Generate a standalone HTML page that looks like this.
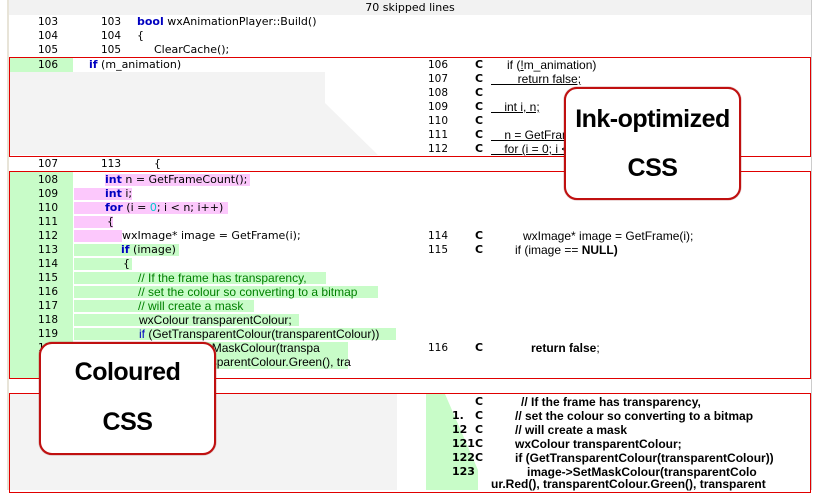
<!DOCTYPE html>
<html><head><meta charset="utf-8"><style>
*{margin:0;padding:0;box-sizing:border-box}
body{width:820px;height:490px;overflow:hidden;background:#fff;position:relative;font-family:"DejaVu Sans","Liberation Sans",sans-serif;font-size:11px;color:#000}
.a{position:absolute;white-space:pre;line-height:14px;height:14px}
.n{position:absolute;width:40px;text-align:right;line-height:14px;font-size:10.5px}
.k{color:#0000c0;font-weight:bold}
.c{color:#008000}
.r{position:absolute}
.box{position:absolute;border:1px solid #e00000}
.g{background:#c8fcc8}
.p{background:#fcc8fc}
.rt{font-family:"Liberation Sans",sans-serif;font-size:12px}
.co{font-family:"Liberation Sans",sans-serif;font-size:12px;color:#008000}
.call{position:absolute;background:#fff;border:2px solid #c01010;border-radius:13px;font-family:"Liberation Sans",sans-serif;font-weight:bold;text-align:center;font-size:25px;box-shadow:0 0 1px #800;letter-spacing:-0.5px}
.u{text-decoration:underline}
</style></head><body>
<div class="r" style="left:7px;top:0;width:2px;height:490px;background:#e8e4d8"></div>
<div class="r" style="left:811px;top:0;width:1px;height:490px;background:#ccc"></div>
<div class="r" style="left:9px;top:0;width:802px;height:15px;background:#f2f2f2"></div>
<div class="a" style="left:0;width:820px;text-align:center;top:1px">70 skipped lines</div>

<div class="n" style="left:18px;top:15px">103</div><div class="n" style="left:81px;top:15px">103</div><div class="a" style="left:137px;top:15px"><span class="k">bool</span> wxAnimationPlayer::Build()</div>
<div class="n" style="left:18px;top:29px">104</div><div class="n" style="left:81px;top:29px">104</div><div class="a" style="left:137px;top:29px">{</div>
<div class="n" style="left:18px;top:43px">105</div><div class="n" style="left:81px;top:43px">105</div><div class="a" style="left:154px;top:43px">ClearCache();</div>

<div class="r g" style="left:10px;top:58px;width:63px;height:14px"></div>
<svg class="r" style="left:0;top:0" width="820" height="490"><polygon points="10,72 325,72 325,103 378,155 10,155" fill="#f3f3f3"/>
<polygon points="426,394 445,394 478,470 478,490 426,490" fill="#c8fcc8"/></svg>
<div class="box" style="left:9px;top:57px;width:802px;height:100px"></div>
<div class="n" style="left:18px;top:58px">106</div><div class="a" style="left:89px;top:58px"><span class="k">if</span> (m_animation)</div>
<div class="n" style="left:408px;top:58px">106</div><div class="a" style="left:475px;top:58px"><b>C</b></div><div class="a rt" style="left:507px;top:58px">if (<span class="u">!</span>m_animation)</div>
<div class="n" style="left:408px;top:72px">107</div><div class="a" style="left:475px;top:72px"><b>C</b></div><div class="a rt u" style="left:491px;top:72px">        return false;</div>
<div class="n" style="left:408px;top:86px">108</div><div class="a" style="left:475px;top:86px"><b>C</b></div>
<div class="n" style="left:408px;top:100px">109</div><div class="a" style="left:475px;top:100px"><b>C</b></div><div class="a rt u" style="left:491px;top:100px">    int i, n;</div>
<div class="n" style="left:408px;top:114px">110</div><div class="a" style="left:475px;top:114px"><b>C</b></div>
<div class="n" style="left:408px;top:128px">111</div><div class="a" style="left:475px;top:128px"><b>C</b></div><div class="a rt u" style="left:491px;top:128px">    n = GetFrameCount();</div>
<div class="n" style="left:408px;top:142px">112</div><div class="a" style="left:475px;top:142px"><b>C</b></div><div class="a rt u" style="left:491px;top:142px">    for (i = 0; i &lt; n; i++)</div>

<div class="n" style="left:18px;top:157px">107</div><div class="n" style="left:81px;top:157px">113</div><div class="a" style="left:154px;top:157px">{</div>

<div class="r g" style="left:10px;top:172px;width:63px;height:206px"></div>
<div class="r p" style="left:105px;top:174px;width:145px;height:12px"></div>
<div class="r p" style="left:74px;top:188px;width:58px;height:12px"></div>
<div class="r p" style="left:74px;top:202px;width:154px;height:12px"></div>
<div class="r p" style="left:74px;top:216px;width:39px;height:12px"></div>
<div class="r p" style="left:74px;top:230px;width:48px;height:12px"></div>
<div class="r g" style="left:74px;top:244px;width:105px;height:12px"></div>
<div class="r g" style="left:74px;top:258px;width:58px;height:12px"></div>
<div class="r g" style="left:74px;top:272px;width:252px;height:12px"></div>
<div class="r g" style="left:74px;top:286px;width:304px;height:12px"></div>
<div class="r g" style="left:74px;top:300px;width:180px;height:12px"></div>
<div class="r g" style="left:74px;top:314px;width:225px;height:12px"></div>
<div class="r g" style="left:74px;top:328px;width:322px;height:12px"></div>
<div class="r g" style="left:74px;top:342px;width:274px;height:27px"></div>
<div class="box" style="left:9px;top:171px;width:802px;height:208px"></div>
<div class="n" style="left:18px;top:173px">108</div><div class="a" style="left:105px;top:173px"><span class="k">int</span> n = GetFrameCount();</div>
<div class="n" style="left:18px;top:187px">109</div><div class="a" style="left:105px;top:187px"><span class="k">int</span> i;</div>
<div class="n" style="left:18px;top:201px">110</div><div class="a" style="left:105px;top:201px"><span class="k">for</span> (i = <span style="color:#0cc">0</span>; i &lt; n; i++)</div>
<div class="n" style="left:18px;top:215px">111</div><div class="a" style="left:107px;top:215px">{</div>
<div class="n" style="left:18px;top:229px">112</div><div class="a" style="left:122px;top:229px">wxImage* image = GetFrame(i);</div>
<div class="n" style="left:18px;top:243px">113</div><div class="a" style="left:121px;top:243px"><span class="k">if</span> (image)</div>
<div class="n" style="left:18px;top:257px">114</div><div class="a" style="left:123px;top:257px">{</div>
<div class="n" style="left:18px;top:271px">115</div><div class="a co" style="left:138px;top:271px">// If the frame has transparency,</div>
<div class="n" style="left:18px;top:285px">116</div><div class="a co" style="left:138px;top:285px">// set the colour so converting to a bitmap</div>
<div class="n" style="left:18px;top:299px">117</div><div class="a co" style="left:138px;top:299px">// will create a mask</div>
<div class="n" style="left:18px;top:313px">118</div><div class="a rt" style="left:139px;top:313px">wxColour transparentColour;</div>
<div class="n" style="left:18px;top:327px">119</div><div class="a rt" style="left:139px;top:327px"><span style="color:#0000c0">if</span> (GetTransparentColour(transparentColour))</div>
<div class="n" style="left:18px;top:341px">120</div><div class="a rt" style="left:150px;top:341px">image-&gt;SetMaskColour(transpa</div>
<div class="a rt" style="left:140px;top:355px">ur.Red(), transparentColour.Green(), tra</div>
<div class="n" style="left:408px;top:229px">114</div><div class="a" style="left:475px;top:229px"><b>C</b></div><div class="a rt" style="left:523px;top:229px">wxImage* image = GetFrame(i);</div>
<div class="n" style="left:408px;top:243px">115</div><div class="a" style="left:475px;top:243px"><b>C</b></div><div class="a rt" style="left:515px;top:243px">if (image == <b>NULL)</b></div>
<div class="n" style="left:408px;top:341px">116</div><div class="a" style="left:475px;top:341px"><b>C</b></div><div class="a rt" style="left:531px;top:341px"><b>return false</b>;</div>

<div class="n" style="left:18px;top:379px">121</div>

<div class="r" style="left:10px;top:394px;width:387px;height:96px;background:#f3f3f3"></div>
<div class="box" style="left:9px;top:393px;width:802px;height:100px"></div>
<div class="a" style="left:475px;top:395px"><b>C</b></div><div class="a rt" style="left:521px;top:395px"><b>// If the frame has transparency,</b></div>
<div class="a" style="left:452px;top:409px"><b>1.</b></div><div class="a" style="left:475px;top:409px"><b>C</b></div><div class="a rt" style="left:515px;top:409px"><b>// set the colour so converting to a bitmap</b></div>
<div class="a" style="left:452px;top:423px"><b>12</b></div><div class="a" style="left:475px;top:423px"><b>C</b></div><div class="a rt" style="left:515px;top:423px"><b>// will create a mask</b></div>
<div class="a" style="left:452px;top:437px"><b>121</b></div><div class="a" style="left:475px;top:437px"><b>C</b></div><div class="a rt" style="left:515px;top:437px"><b>wxColour transparentColour;</b></div>
<div class="a" style="left:452px;top:451px"><b>122</b></div><div class="a" style="left:475px;top:451px"><b>C</b></div><div class="a rt" style="left:515px;top:451px"><b>if (GetTransparentColour(transparentColour))</b></div>
<div class="a" style="left:452px;top:465px"><b>123</b></div><div class="a rt" style="left:527px;top:465px"><b>image-&gt;SetMaskColour(transparentColo</b></div>
<div class="a rt" style="left:491px;top:477px"><b>ur.Red(), transparentColour.Green(), transparent</b></div>

<div class="call" style="left:564px;top:87px;width:177px;height:113px"><div style="position:absolute;left:0;right:0;top:16px">Ink-optimized</div><div style="position:absolute;left:0;right:0;top:65px">CSS</div></div>
<div class="call" style="left:39px;top:342px;width:177px;height:113px"><div style="position:absolute;left:0;right:0;top:14px">Coloured</div><div style="position:absolute;left:0;right:0;top:64px">CSS</div></div>
</body></html>
